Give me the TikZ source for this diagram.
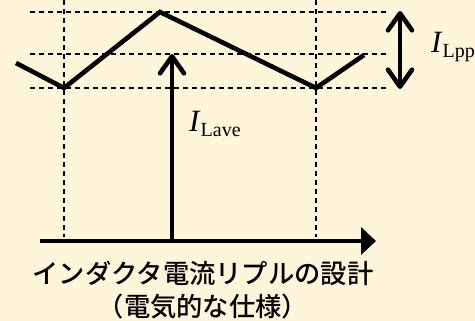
\documentclass[tikz,border=0pt]{standalone}
\usepackage{fontspec}
\setmainfont{Liberation Serif}
\newfontfamily\jpfont{Noto Sans CJK JP Medium}
\usetikzlibrary{arrows.meta}
\definecolor{bgcream}{RGB}{255,245,218}
\begin{document}
\begin{tikzpicture}[x=1pt,y=-1pt,
  grid/.style={line width=1.3pt,dash pattern=on 5pt off 4pt},
  wave/.style={line width=4.6pt,line join=miter,line cap=butt},
  vee/.style={line width=4.6pt,-{Straight Barb[length=17pt,width=24pt,round]}},
  vvee/.style={line width=4.6pt,{Straight Barb[length=17pt,width=24pt,round]}-{Straight Barb[length=17pt,width=24pt,round]}},
  axis/.style={line width=4.6pt,-{Triangle[length=15pt,width=27pt]}},
  lbl/.style={inner sep=0pt,font=\fontsize{31}{32}\selectfont}
]
\fill[bgcream] (0,0) rectangle (475,321);
\useasboundingbox (0,0) rectangle (475,321);
% grid coordinates
\coordinate (hTl) at (30,12);  \coordinate (hTr) at (388,12);
\coordinate (hMl) at (30,54);  \coordinate (hMr) at (388,54);
\coordinate (hBl) at (30,88);  \coordinate (hBr) at (388,88);
\coordinate (vLt) at (64,0);   \coordinate (vLb) at (64,237);
\coordinate (vRt) at (316,0);  \coordinate (vRb) at (316,237);
\draw[grid] (hTl) -- (hTr);
\draw[grid] (hMl) -- (hMr);
\draw[grid] (hBl) -- (hBr);
\draw[grid] (vLt) -- (vLb);
\draw[grid] (vRt) -- (vRb);
% waveform
\coordinate (w0) at (16,63);
\coordinate (w1) at (64,88);
\coordinate (w2) at (160,12);
\coordinate (w3) at (316,88);
\coordinate (w4) at (364,55);
\draw[wave] (w0) -- (w1) -- (w2) -- (w3) -- (w4);
% axis
\coordinate (ax0) at (40,241);
\coordinate (ax1) at (376,241);
\draw[axis] (ax0) -- (ax1);
% average arrow
\coordinate (avb) at (172,241);
\coordinate (avt) at (172,54);
\draw[vee] (avb) -- (avt);
% ripple arrow
\coordinate (rpt) at (400,11);
\coordinate (rpb) at (400,89);
\draw[vvee] (rpt) -- (rpb);
% labels
\node[lbl,anchor=base west] (lave) at (189,132) {\textit{I}\raisebox{-5pt}{\fontsize{20}{21}\selectfont Lave}};
\node[lbl,anchor=base west] (lpp) at (431,53) {\textit{I}\raisebox{-5pt}{\fontsize{20}{21}\selectfont Lpp}};
\node[inner sep=0pt,anchor=center,font=\jpfont\fontsize{26.3}{28}\selectfont] (t1) at (203,273) {インダクタ電流リプルの設計};
\node[inner sep=0pt,anchor=center,font=\jpfont\fontsize{26.3}{28}\selectfont] (t2) at (203,307) {（電気的な仕様）};
\end{tikzpicture}
\end{document}
